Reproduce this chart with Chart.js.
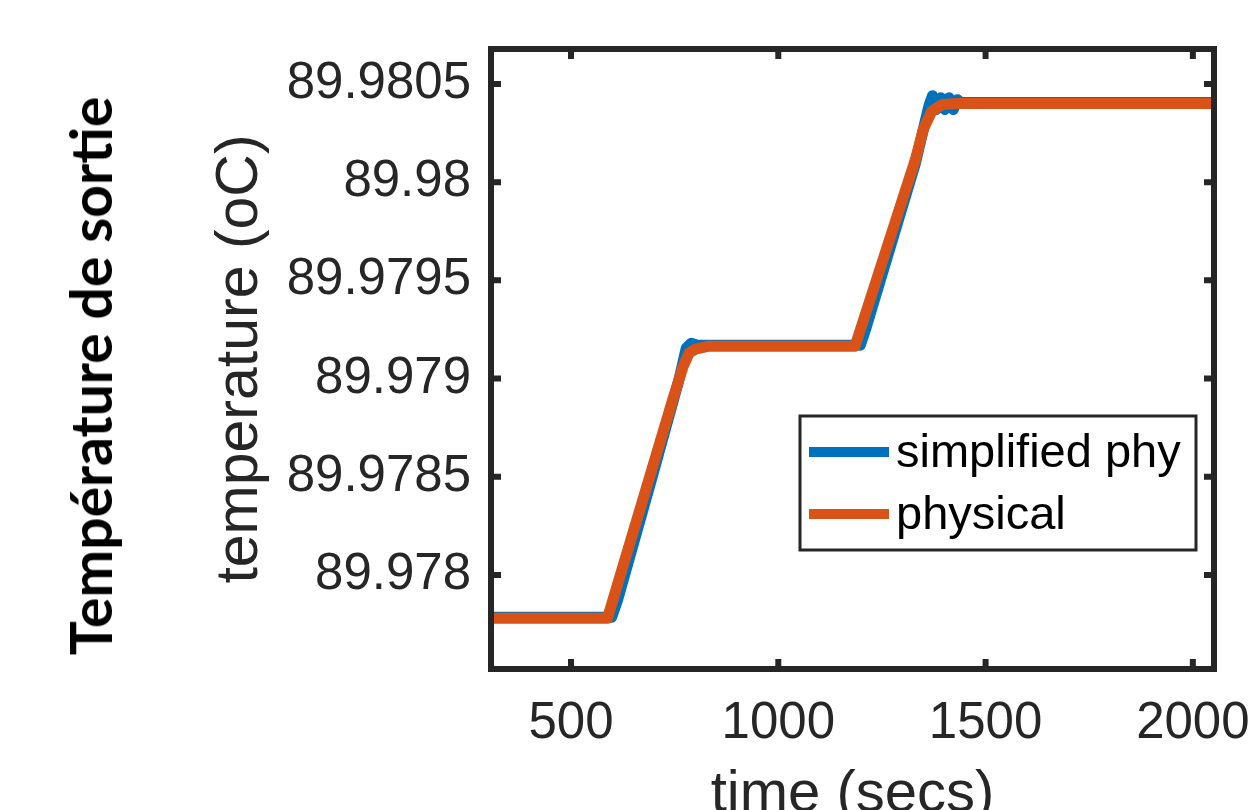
<!DOCTYPE html>
<html>
<head>
<meta charset="utf-8">
<script src="https://cdn.jsdelivr.net/npm/chart.js@4.4.1/dist/chart.umd.min.js"></script>
<style>
html,body{margin:0;padding:0;background:#fff}
#wrap{position:relative;width:1249px;height:810px;overflow:hidden}
#side-title{position:absolute;left:90px;top:376px;transform:translate(-50%,-50%) rotate(-90deg);font:bold 57px Lato,"Open Sans",sans-serif;color:#000;white-space:nowrap}
</style>
</head>
<body>
<div id="wrap">
  <canvas id="tempChart" width="1249" height="810"></canvas>
  <div id="side-title">Température de sortie</div>
</div>
<script>
// axis ticks
const xTicks = [500, 1000, 1500, 2000];
const yTicks = [89.978, 89.9785, 89.979, 89.9795, 89.98, 89.9805];

// simplified physical model (blue)
const tSimplified = [307, 598, 612, 700, 760, 778, 790, 805, 1198, 1212, 1330, 1350, 1360, 1365, 1372, 1382, 1392, 1402, 1412, 1422, 1432, 1440, 2051];
const simplified  = [89.977785, 89.977785, 89.97787, 89.97853, 89.97899, 89.979155, 89.97918, 89.97917, 89.97917, 89.97926, 89.98009, 89.98027, 89.98036, 89.98040, 89.98044, 89.98037, 89.98043, 89.98037, 89.98043, 89.98037, 89.98042, 89.980405, 89.980405];

// physical model (orange)
const tPhysical = [307, 588, 745, 770, 785, 800, 830, 1185, 1330, 1350, 1370, 1395, 1430, 2051];
const physical  = [89.97778, 89.97778, 89.97889, 89.97906, 89.97913, 89.97915, 89.979164, 89.979164, 89.98011, 89.98027, 89.98036, 89.980395, 89.9804, 89.9804];

const FONT = "'Liberation Sans', Arial, Helvetica, sans-serif";
const AXIS = "#262626";

let tempChart = null;

const framePlugin = {
  id: "frame",
  afterDatasetsDraw(chart) {
    const {ctx, chartArea: a, scales: {x, y}} = chart;
    ctx.save();
    ctx.strokeStyle = AXIS;
    ctx.lineWidth = 6;
    ctx.lineJoin = "miter";
    ctx.strokeRect(a.left, a.top, a.right - a.left, a.bottom - a.top);
    ctx.beginPath();
    x.ticks.forEach(t => {
      const px = x.getPixelForValue(t.value);
      ctx.moveTo(px, a.bottom); ctx.lineTo(px, a.bottom - 10);
      ctx.moveTo(px, a.top);    ctx.lineTo(px, a.top + 10);
    });
    y.ticks.forEach(t => {
      const py = y.getPixelForValue(t.value);
      ctx.moveTo(a.left, py);  ctx.lineTo(a.left + 10, py);
      ctx.moveTo(a.right, py); ctx.lineTo(a.right - 10, py);
    });
    ctx.stroke();
    ctx.restore();
  }
};

const legendPlugin = {
  id: "boxLegend",
  afterDraw(chart) {
    const ctx = chart.ctx;
    const bx = 800, by = 416, bw = 396, bh = 134;
    ctx.save();
    ctx.fillStyle = "#fff";
    ctx.fillRect(bx, by, bw, bh);
    ctx.strokeStyle = AXIS;
    ctx.lineWidth = 3;
    ctx.strokeRect(bx, by, bw, bh);
    chart.data.datasets.forEach((ds, i) => {
      const ly = 452 + i * 62;
      ctx.strokeStyle = ds.borderColor;
      ctx.lineWidth = 10;
      ctx.beginPath();
      ctx.moveTo(809, ly); ctx.lineTo(889, ly);
      ctx.stroke();
      ctx.fillStyle = "#000";
      ctx.font = "47px " + FONT;
      ctx.textBaseline = "middle";
      ctx.textAlign = "left";
      ctx.fillText(ds.label, 896, ly + 2);
    });
    ctx.restore();
  }
};

function drawChart() {
  const ctx = document.getElementById("tempChart");
  if (!ctx || typeof Chart === "undefined") return;
  tempChart = new Chart(ctx.getContext("2d"), {
    type: "scatter",
    data: {
      datasets: [
        {label: "simplified phy", data: tSimplified.map((t, i) => ({x: t, y: simplified[i]})), borderColor: "#0072BD", backgroundColor: "#0072BD", order: 1},
        {label: "physical",       data: tPhysical.map((t, i) => ({x: t, y: physical[i]})),     borderColor: "#D95319", backgroundColor: "#D95319", order: 0},
      ].map(d => Object.assign(d, {showLine: true, borderWidth: 11, pointRadius: 0, tension: 0, borderCapStyle: "butt", borderJoinStyle: "round"}))
    },
    options: {
      responsive: false, animation: false, devicePixelRatio: 1,
      layout: {padding: {top: 49, right: 35, left: 0, bottom: 0}},
      plugins: {legend: {display: false}, tooltip: {enabled: false}},
      scales: {
        x: {
          type: "linear", min: 307, max: 2051,
          afterBuildTicks: s => { s.ticks = xTicks.map(v => ({value: v})); },
          afterFit: s => { s.height = 141; s.paddingLeft = 0; s.paddingRight = 0; },
          grid: {display: false, drawTicks: false}, border: {display: false},
          ticks: {padding: 24, color: AXIS, font: {family: FONT, size: 51}, callback: v => String(v), maxRotation: 0},
          title: {display: true, text: "time (secs)", color: AXIS, font: {family: FONT, size: 58}, padding: {top: 0, bottom: -20}}
        },
        y: {
          type: "linear", min: 89.977521, max: 89.980678,
          afterBuildTicks: s => { s.ticks = yTicks.map(v => ({value: v})); },
          afterFit: s => { s.width = 491; s.paddingTop = 0; s.paddingBottom = 0; },
          grid: {display: false, drawTicks: false}, border: {display: false},
          ticks: {padding: 20, color: AXIS, font: {family: FONT, size: 51}, callback: v => String(v)},
          title: {display: true, text: "temperature (oC)", color: AXIS, font: {family: FONT, size: 59}, padding: {top: 205, bottom: 0}}
        }
      }
    },
    plugins: [framePlugin, legendPlugin]
  });
}

document.addEventListener("DOMContentLoaded", drawChart);
</script>
</body>
</html>
